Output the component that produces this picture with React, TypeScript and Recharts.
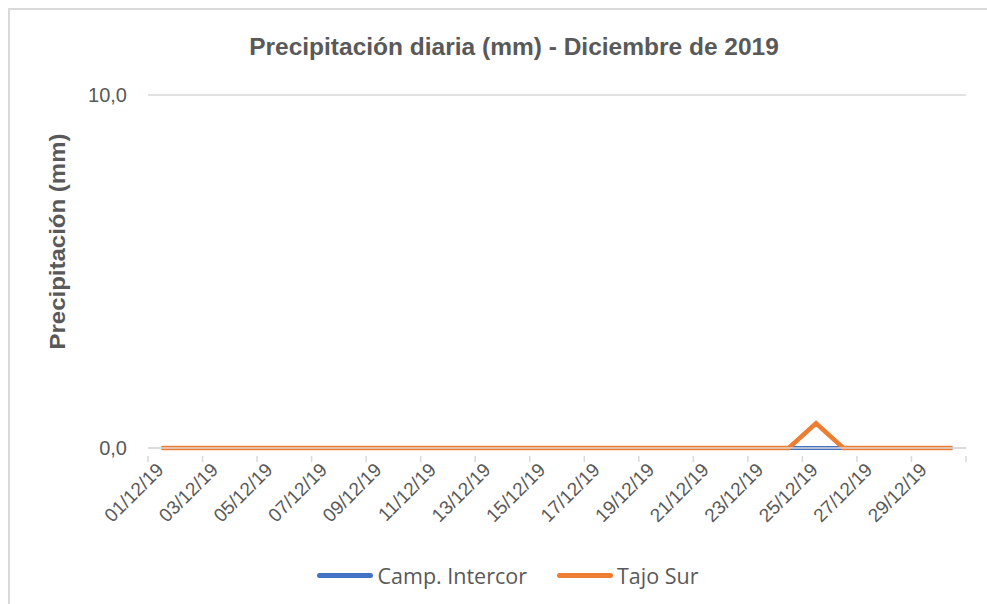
import React from "react";
import { LineChart, Line, XAxis, YAxis, CartesianGrid, Legend } from "recharts";

const dates = [
	"01/12/19", "02/12/19", "03/12/19", "04/12/19", "05/12/19", "06/12/19",
	"07/12/19", "08/12/19", "09/12/19", "10/12/19", "11/12/19", "12/12/19",
	"13/12/19", "14/12/19", "15/12/19", "16/12/19", "17/12/19", "18/12/19",
	"19/12/19", "20/12/19", "21/12/19", "22/12/19", "23/12/19", "24/12/19",
	"25/12/19", "26/12/19", "27/12/19", "28/12/19", "29/12/19", "30/12/19",
];

const campIntercor = [
	0, 0, 0, 0, 0, 0, 0, 0, 0, 0, 0, 0, 0, 0, 0, 0, 0, 0, 0, 0, 0, 0, 0, 0, 0,
	0, 0, 0, 0, 0,
];

const tajoSur = [
	0, 0, 0, 0, 0, 0, 0, 0, 0, 0, 0, 0, 0, 0, 0, 0, 0, 0, 0, 0, 0, 0, 0, 0, 0.7,
	0, 0, 0, 0, 0,
];

const yTicks = [0, 10];

const BLUE = "#4472C4";
const ORANGE = "#ED7D31";
const TEXT = "#595959";
const GRID = "#D9D9D9";
const SANS = '"Liberation Sans", Arial, sans-serif';

const data = dates.map((d, i) => ({
	x: i + 0.5,
	label: d,
	intercor: campIntercor[i],
	tajo: tajoSur[i],
}));

// tick marks sit on every second category boundary, labels on odd days
const xTicks: number[] = [];
for (let i = 0; i <= dates.length; i += 2) {
	xTicks.push(i);
	if (i < dates.length) xTicks.push(i + 0.5);
}

const XTick = (props: any) => {
	const { x, y, payload } = props;
	const v = payload.value as number;
	if (Number.isInteger(v)) {
		return <line x1={x} x2={x} y1={y} y2={y + 6} stroke={GRID} strokeWidth={1.5} />;
	}
	const label = dates[Math.floor(v)];
	return (
		<text
			x={x + 3}
			y={y + 15}
			textAnchor="end"
			fill={TEXT}
			fontSize={19}
			fontFamily={SANS}
			transform={`rotate(-45 ${x + 3} ${y + 15})`}
		>
			{label}
		</text>
	);
};

const LegendContent = () => {
	const items = [
		{ name: "Camp. Intercor", color: BLUE },
		{ name: "Tajo Sur", color: ORANGE },
	];
	return (
		<div style={{ display: "flex", justifyContent: "center", gap: 30 }}>
			{items.map((it) => (
				<div key={it.name} style={{ display: "flex", alignItems: "center" }}>
					<div
						style={{
							width: 56,
							height: 5,
							borderRadius: 3,
							background: it.color,
							marginRight: 4,
						}}
					/>
					<span
						style={{
							color: TEXT,
							fontSize: 21.5,
							fontFamily: '"Open Sans", "Noto Sans", sans-serif',
						}}
					>
						{it.name}
					</span>
				</div>
			))}
		</div>
	);
};

export default function App() {
	return (
		<div
			style={{
				position: "fixed",
				left: 0,
				top: 0,
				width: 987,
				height: 604,
				overflow: "hidden",
				background: "#fff",
			}}
		>
			<div
				style={{
					position: "absolute",
					left: 8,
					top: 8,
					width: 1000,
					height: 700,
					borderLeft: `2px solid ${GRID}`,
					borderTop: `2px solid ${GRID}`,
				}}
			/>
			<div
				style={{
					position: "absolute",
					left: 0,
					top: 33,
					width: 1028,
					textAlign: "center",
					fontFamily: SANS,
					fontWeight: "bold",
					fontSize: 24.5,
					color: TEXT,
				}}
			>
				Precipitación diaria (mm) - Diciembre de 2019
			</div>
			<div style={{ position: "absolute", left: 0, top: 0 }}>
				<LineChart
					width={987}
					height={604}
					data={data}
					margin={{ top: 95, right: 21, left: 78, bottom: 27 }}
				>
					<CartesianGrid vertical={false} stroke={GRID} strokeWidth={1.5} />
					<XAxis
						dataKey="x"
						type="number"
						domain={[0, dates.length]}
						ticks={xTicks}
						interval={0}
						tick={<XTick />}
						tickLine={false}
						axisLine={{ stroke: GRID, strokeWidth: 1.5 }}
						height={100}
					/>
					<YAxis
						domain={[0, 10]}
						ticks={yTicks}
						width={70}
						axisLine={false}
						tickLine={false}
						tickSize={0}
						tickMargin={21}
						tick={{ fill: TEXT, fontSize: 20, fontFamily: SANS }}
						tickFormatter={(v: number) => v.toFixed(1).replace(".", ",")}
						label={{
							content: (p: any) => {
								const vb = p.viewBox;
								const cx = vb.x - 21;
								const cy = vb.y + vb.height / 2 - 30;
								return (
									<text
										x={cx}
										y={cy}
										textAnchor="middle"
										dominantBaseline="central"
										fill={TEXT}
										fontSize={22}
										fontWeight="bold"
										fontFamily={SANS}
										textLength={216}
										lengthAdjust="spacingAndGlyphs"
										transform={`rotate(-90 ${cx} ${cy})`}
									>
										Precipitación (mm)
									</text>
								);
							},
						}}
					/>
					<Legend
						content={<LegendContent />}
						wrapperStyle={{ position: "absolute", left: 0, width: 1016, top: 561 }}
					/>
					<Line
						type="linear"
						dataKey="intercor"
						name="Camp. Intercor"
						stroke={BLUE}
						strokeWidth={4}
						dot={false}
						isAnimationActive={false}
					/>
					<Line
						type="linear"
						dataKey="tajo"
						name="Tajo Sur"
						stroke={ORANGE}
						strokeWidth={4.5}
						dot={false}
						isAnimationActive={false}
					/>
				</LineChart>
			</div>
		</div>
	);
}
